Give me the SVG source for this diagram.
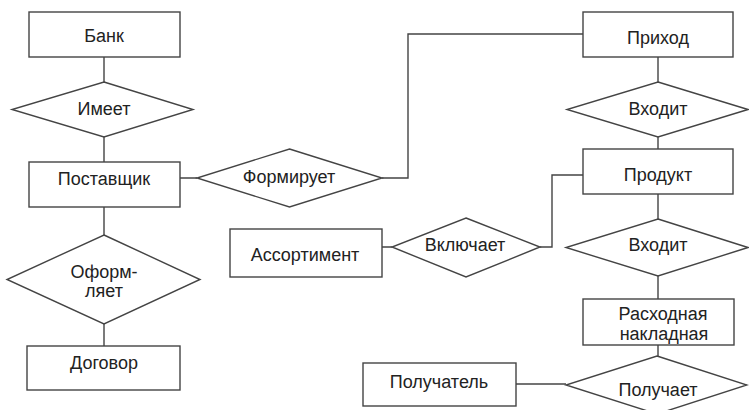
<svg xmlns="http://www.w3.org/2000/svg" width="749" height="410" viewBox="0 0 749 410">
<style>
.b{fill:#fff;stroke:#444;stroke-width:1.4}
.c{fill:none;stroke:#444;stroke-width:1.4}
text{font-family:"Liberation Sans",Arial,sans-serif;font-size:18px;fill:#222;text-anchor:middle}
</style>
<rect width="749" height="410" fill="#fff"/>
<g id="connectors">
<path class="c" d="M104,57V82M104,137V162M104,207V235M104,324V346"/>
<path class="c" d="M180,178H197M382,178H408V34H583"/>
<path class="c" d="M658,57V82M658,137V149M658,194V219M658,276V299M658,345V356"/>
<path class="c" d="M583,175H552V247H540M382,247H392"/>
<path class="c" d="M516,384H566"/>
</g>
<g id="bank"><rect class="b" x="29" y="12" width="151" height="45"/><text x="104" y="42">Банк</text></g>
<g id="imeet"><polygon class="b" points="104,82 193,109.5 104,137 12,109.5"/><text x="104" y="115">Имеет</text></g>
<g id="postavshik"><rect class="b" x="29" y="162" width="151" height="45"/><text x="104" y="185">Поставщик</text></g>
<g id="oformlyaet"><polygon class="b" points="104,235 200,279.5 104,324 7,279.5"/><text x="104" y="278">Оформ-</text><text x="104" y="297">ляет</text></g>
<g id="dogovor"><rect class="b" x="27" y="346" width="153" height="44"/><text x="104" y="369">Договор</text></g>
<g id="formiruet"><polygon class="b" points="289.5,149 382,178 289.5,207 197,178"/><text x="289" y="183">Формирует</text></g>
<g id="prihod"><rect class="b" x="583" y="12" width="150" height="45"/><text x="658" y="44">Приход</text></g>
<g id="vhodit1"><polygon class="b" points="658,82 748,109.5 658,137 567,109.5"/><text x="658" y="115">Входит</text></g>
<g id="produkt"><rect class="b" x="583" y="149" width="150" height="45"/><text x="658" y="181">Продукт</text></g>
<g id="vkluchaet"><polygon class="b" points="466,218 540,247 466,277 392,247"/><text x="465" y="251">Включает</text></g>
<g id="assortiment"><rect class="b" x="230" y="229" width="152" height="48"/><text x="305" y="261">Ассортимент</text></g>
<g id="vhodit2"><polygon class="b" points="658,219 748,247.5 658,276 566,247.5"/><text x="658" y="251">Входит</text></g>
<g id="rashodnaya"><rect class="b" x="583" y="299" width="151" height="46"/><text x="663" y="320">Расходная</text><text x="664" y="340">накладная</text></g>
<g id="poluchaet"><polygon class="b" points="657,356 747,385 657,414 566,385"/><text x="658" y="396">Получает</text></g>
<g id="poluchatel"><rect class="b" x="363" y="363" width="153" height="43"/><text x="439" y="388">Получатель</text></g>
</svg>
